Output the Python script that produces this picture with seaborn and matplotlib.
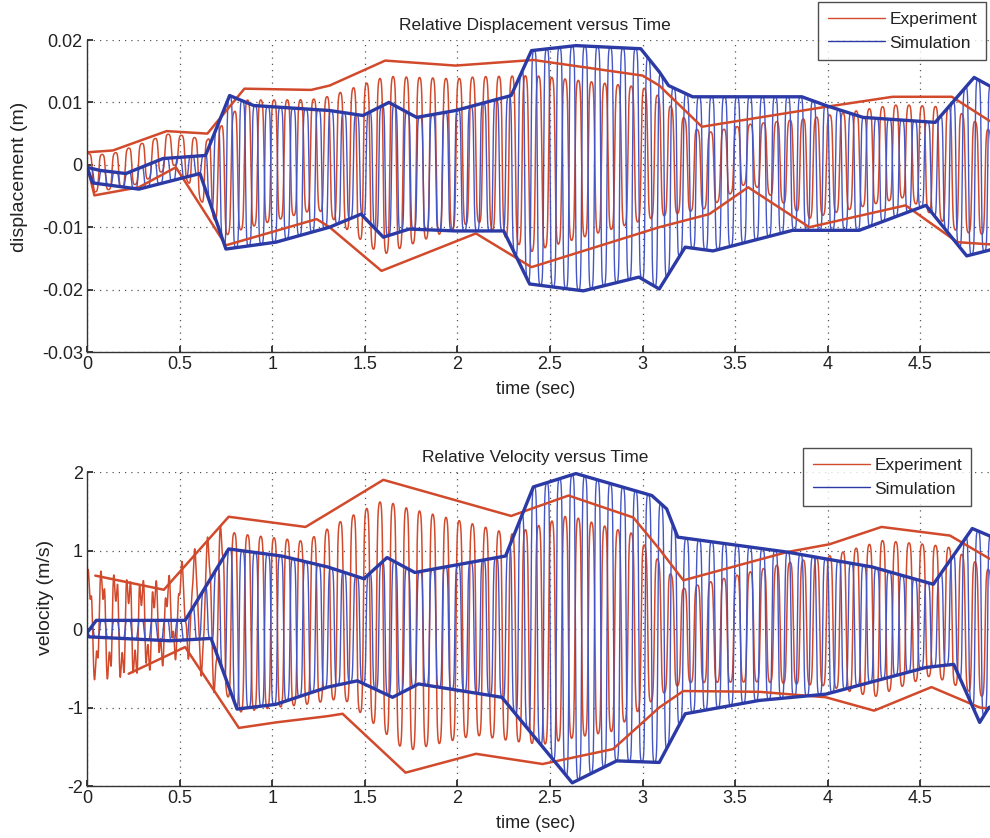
import numpy as np
import pandas as pd
import matplotlib
matplotlib.use("Agg")
import matplotlib.pyplot as plt
from matplotlib.lines import Line2D
import seaborn as sns

# ---------------- data ----------------
# Envelope knots (time in s) of the relative displacement traces (m)
disp_exp_upper_t = [0.0, 0.14, 0.43, 0.65, 0.85, 1.21, 1.31, 1.61, 1.99, 2.41, 3.00, 3.09, 3.32, 3.97, 4.35, 4.67, 4.87, 5.0]
disp_exp_upper = [0.002, 0.0023, 0.0054, 0.0050, 0.0122, 0.0120, 0.0127, 0.0167, 0.0159, 0.0168, 0.0143, 0.0127, 0.0061, 0.0092, 0.0109, 0.0109, 0.0071, 0.0050]
disp_exp_lower_t = [0.0, 0.04, 0.28, 0.48, 0.75, 1.24, 1.31, 1.59, 2.10, 2.40, 3.09, 3.36, 3.57, 3.90, 4.42, 4.70, 5.0]
disp_exp_lower = [0.0, -0.0049, -0.0036, -0.0004, -0.0129, -0.0087, -0.0100, -0.0170, -0.0110, -0.0164, -0.0100, -0.0079, -0.0036, -0.0100, -0.0065, -0.0124, -0.0130]

disp_sim_upper_t = [0.0, 0.07, 0.21, 0.41, 0.64, 0.77, 0.90, 1.31, 1.49, 1.63, 1.78, 1.99, 2.29, 2.40, 2.64, 2.99, 3.09, 3.14, 3.27, 3.86, 3.99, 4.19, 4.58, 4.79, 4.87, 5.0]
disp_sim_upper = [-0.0004, -0.0009, -0.0014, 0.0010, 0.0015, 0.0111, 0.0095, 0.0087, 0.0079, 0.0100, 0.0076, 0.0087, 0.0111, 0.0183, 0.0191, 0.0186, 0.0149, 0.0127, 0.0109, 0.0109, 0.0095, 0.0076, 0.0068, 0.0140, 0.0127, 0.0110]
disp_sim_lower_t = [0.0, 0.03, 0.28, 0.61, 0.75, 1.02, 1.31, 1.48, 1.60, 1.74, 1.99, 2.25, 2.39, 2.68, 2.98, 3.09, 3.23, 3.38, 3.81, 4.17, 4.53, 4.75, 4.87, 5.0]
disp_sim_lower = [-0.0004, -0.0029, -0.0039, -0.0014, -0.0135, -0.0124, -0.0100, -0.0079, -0.0116, -0.0103, -0.0106, -0.0106, -0.0191, -0.0202, -0.0180, -0.0199, -0.0132, -0.0138, -0.0105, -0.0105, -0.0065, -0.0146, -0.0137, -0.0120]

# Envelope knots of the relative velocity traces (m/s)
vel_exp_upper_t = [0.045, 0.415, 0.765, 1.18, 1.30, 1.60, 2.29, 2.60, 2.95, 3.09, 3.22, 3.78, 4.01, 4.29, 4.66, 4.87, 5.0]
vel_exp_upper = [0.68, 0.50, 1.43, 1.30, 1.47, 1.90, 1.44, 1.70, 1.42, 1.02, 0.62, 0.98, 1.08, 1.30, 1.19, 0.90, 0.80]
vel_exp_lower_t = [0.225, 0.53, 0.82, 1.02, 1.30, 1.38, 1.72, 2.10, 2.46, 2.84, 3.09, 3.22, 3.63, 3.99, 4.25, 4.56, 4.82, 5.0]
vel_exp_lower = [-0.57, -0.23, -1.26, -1.19, -1.11, -1.08, -1.83, -1.59, -1.72, -1.53, -1.00, -0.79, -0.80, -0.87, -1.04, -0.74, -1.00, -1.05]

vel_sim_upper_t = [0.0, 0.05, 0.53, 0.765, 1.05, 1.30, 1.495, 1.62, 1.77, 2.26, 2.41, 2.64, 3.05, 3.13, 3.19, 3.78, 4.24, 4.57, 4.78, 4.87, 5.0]
vel_sim_upper = [-0.05, 0.11, 0.11, 1.02, 0.93, 0.79, 0.64, 0.91, 0.72, 0.93, 1.81, 1.98, 1.70, 1.53, 1.17, 0.98, 0.79, 0.57, 1.28, 1.19, 1.00]
vel_sim_lower_t = [0.0, 0.01, 0.45, 0.67, 0.81, 1.02, 1.30, 1.46, 1.65, 1.79, 2.24, 2.62, 2.86, 3.09, 3.23, 3.63, 3.99, 4.53, 4.68, 4.82, 4.87, 5.0]
vel_sim_lower = [-0.05, -0.10, -0.15, -0.12, -1.02, -0.96, -0.74, -0.66, -0.87, -0.70, -0.87, -1.96, -1.68, -1.70, -1.08, -0.91, -0.83, -0.49, -0.45, -1.19, -1.00, -0.90]

# Oscillation frequencies (Hz) of the measured and simulated responses
exp_freq = 14.0
sim_freq = 14.6

series_labels = ["Experiment", "Simulation"]
x_ticks = [0, 0.5, 1, 1.5, 2, 2.5, 3, 3.5, 4, 4.5]
disp_ticks = [-0.03, -0.02, -0.01, 0, 0.01, 0.02]
vel_ticks = [-2, -1, 0, 1, 2]

RED = "#d24a2c"
BLUE = "#2c3aa6"
BLUE_THIN = "#4556c4"

# ---------------- helpers ----------------
t = np.linspace(0.0, 5.05, 6000)


def oscillation(ut, uy, lt, ly, freq, fill, phase=0.0, square=2.0):
    up = np.interp(t, ut, uy)
    lo = np.interp(t, lt, ly)
    mid = 0.5 * (up + lo)
    half = 0.5 * (up - lo) * fill
    s = np.sin(2 * np.pi * freq * t + phase)
    shape = np.tanh(square * s) / np.tanh(square)
    return mid + half * shape


def frame(x, y, series, part):
    return pd.DataFrame({"time": x, "value": y, "series": series, "part": part})


sns.set_theme(style="white")
plt.rcParams["font.family"] = ["Liberation Sans", "DejaVu Sans"]
plt.rcParams["axes.edgecolor"] = "#333333"

fig = plt.figure(figsize=(9.9, 8.38), dpi=100)
ax1 = fig.add_axes([87 / 990, 1 - 352 / 838, (1013 - 87) / 990, (352 - 40) / 838])
ax2 = fig.add_axes([87 / 990, 1 - 786 / 838, (1013 - 87) / 990, (786 - 472) / 838])


def draw_panel(ax, exp_u, exp_l, sim_u, sim_l, ripple):
    exp_sig = oscillation(*exp_u, *exp_l, exp_freq, 0.85, phase=0.7)
    if ripple:
        exp_sig = exp_sig + ripple * np.sin(2 * np.pi * 3.1 * exp_freq * t) * (t < 0.75)
    sim_sig = oscillation(*sim_u, *sim_l, sim_freq, 1.0, square=2.5)

    sns.lineplot(data=frame(t, exp_sig, "Experiment", "signal"), x="time", y="value",
                 color=RED, lw=1.1, sort=False, estimator=None, ax=ax, legend=False)
    sns.lineplot(data=frame(t, sim_sig, "Simulation", "signal"), x="time", y="value",
                 color=BLUE_THIN, lw=1.0, sort=False, estimator=None, ax=ax, legend=False)
    for ex, ey in (exp_u, exp_l):
        sns.lineplot(data=frame(ex, ey, "Experiment", "envelope"), x="time", y="value",
                     color=RED, lw=1.8, sort=False, estimator=None, ax=ax, legend=False)
    for ex, ey in (sim_u, sim_l):
        sns.lineplot(data=frame(ex, ey, "Simulation", "envelope"), x="time", y="value",
                     color=BLUE, lw=2.4, sort=False, estimator=None, ax=ax, legend=False)


draw_panel(ax1, (disp_exp_upper_t, disp_exp_upper), (disp_exp_lower_t, disp_exp_lower),
           (disp_sim_upper_t, disp_sim_upper), (disp_sim_lower_t, disp_sim_lower), 0.0)
draw_panel(ax2, (vel_exp_upper_t, vel_exp_upper), (vel_exp_lower_t, vel_exp_lower),
           (vel_sim_upper_t, vel_sim_upper), (vel_sim_lower_t, vel_sim_lower), 0.18)

panels = (
    (ax1, disp_ticks, "displacement (m)", "Relative Displacement versus Time", (-0.03, 0.02), (-0.064, 0.56)),
    (ax2, vel_ticks, "velocity (m/s)", "Relative Velocity versus Time", (-2, 2), (-0.036, 0.60)),
)
for ax, ticks, ylab, title, ylim, ylab_pos in panels:
    ax.set_xlim(0, 5)
    ax.set_ylim(*ylim)
    ax.set_xticks(x_ticks)
    ax.set_xticklabels([f"{v:g}" for v in x_ticks])
    ax.set_yticks(ticks)
    ax.set_yticklabels([f"{v:g}" for v in ticks])
    ax.grid(True, color="#555555", linestyle=(0, (1, 4)), linewidth=0.9)
    ax.tick_params(direction="in", length=4, labelsize=13, colors="#222222", pad=3,
                   left=True, bottom=True)
    for side in ("top", "right"):
        ax.spines[side].set_visible(False)
    for side in ("left", "bottom"):
        ax.spines[side].set_color("#333333")
        ax.spines[side].set_linewidth(1.0)
    ax.set_xlabel("time (sec)", fontsize=13, color="#222222")
    ax.xaxis.set_label_coords(0.484, -0.092)
    ax.set_ylabel(ylab, fontsize=14, color="#222222")
    ax.yaxis.set_label_coords(*ylab_pos)
    ax.set_title(title, fontsize=12.5, color="#222222", x=0.484, pad=7)

handles = [Line2D([], [], color=RED, lw=1.0), Line2D([], [], color=BLUE, lw=1.0)]
for x0, y0 in ((818 / 990, 1 - 2 / 838), (803 / 990, 1 - 448 / 838)):
    leg = fig.legend(handles, series_labels, loc="upper left", bbox_to_anchor=(x0, y0),
                     bbox_transform=fig.transFigure, fontsize=12.5, frameon=True,
                     fancybox=False, borderaxespad=0, handlelength=3.3, handletextpad=0.25,
                     borderpad=0.55, labelspacing=0.5)
    leg.get_frame().set_edgecolor("#222222")
    leg.get_frame().set_linewidth(1.0)
    for txt in leg.get_texts():
        txt.set_color("#222222")

fig.savefig("out.png", dpi=100)
